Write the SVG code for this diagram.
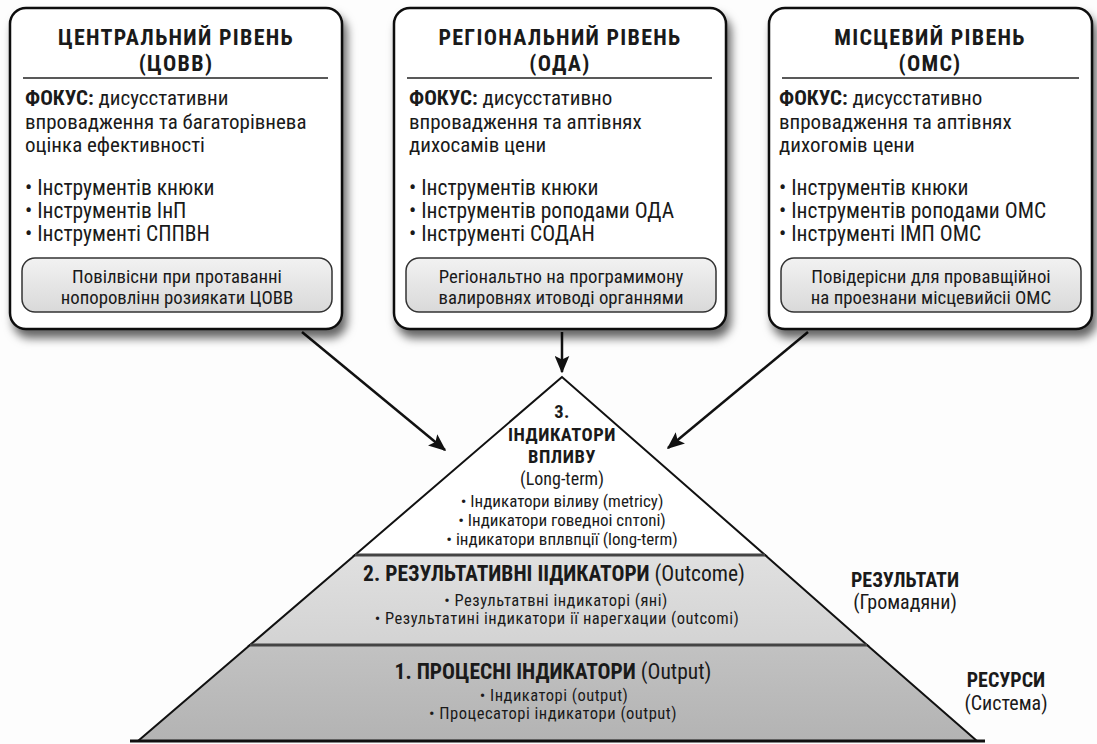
<svg xmlns="http://www.w3.org/2000/svg" width="1097" height="744" viewBox="0 0 1097 744">
<defs>
<filter id="sh" x="-10%" y="-10%" width="125%" height="130%">
<feDropShadow dx="4" dy="8" stdDeviation="5" flood-color="#000" flood-opacity="0.6"/>
</filter>
<linearGradient id="ig" x1="0" y1="0" x2="0" y2="1">
<stop offset="0" stop-color="#f2f2f2"/><stop offset="1" stop-color="#d9d9d9"/>
</linearGradient>
<linearGradient id="t2" x1="0" y1="0" x2="0" y2="1">
<stop offset="0" stop-color="#e0e0e0"/><stop offset="1" stop-color="#d3d3d3"/>
</linearGradient>
<linearGradient id="t1" x1="0" y1="0" x2="0" y2="1">
<stop offset="0" stop-color="#c2c2c2"/><stop offset="1" stop-color="#b3b3b3"/>
</linearGradient>
<marker id="ah" viewBox="0 0 12 10" refX="11" refY="5" markerWidth="7" markerHeight="6" orient="auto" markerUnits="strokeWidth">
<path d="M0,0 L12,5 L0,10 L2.5,5 Z" fill="#111"/>
</marker>
<style>
text{font-family:"Liberation Sans Narrow","Roboto Condensed","Liberation Sans",Arial,sans-serif;fill:#1a1a1a}
.box{fill:#fff;stroke:#111;stroke-width:2.5}
.inner{fill:url(#ig);stroke:#333;stroke-width:1.5}
.div{stroke:#222;stroke-width:1.5}
.ttl{font-size:22px;font-weight:bold;text-anchor:middle;letter-spacing:1.3px}
.body{font-size:21px}
.b{font-weight:bold}
.bul{font-size:21.5px}
.in{font-size:18.8px;text-anchor:middle}
.conn{stroke:#111;stroke-width:2.5;fill:none}
.pt{text-anchor:middle}
.ph{font-size:18.5px;font-weight:bold;letter-spacing:0.5px}
.pr{font-size:18px}
.ps{font-size:17px}
.pb{font-size:16.5px;letter-spacing:0.5px}
.h2{font-size:21.5px;font-weight:bold}
.r2{font-size:21.5px}
.side{font-size:20px;text-anchor:middle}
</style>
</defs>
<rect width="1097" height="744" fill="#fdfdfd"/>

<g id="connectors">
<line class="conn" x1="302" y1="332" x2="445" y2="450" marker-end="url(#ah)"/>
<line class="conn" x1="562" y1="332" x2="562" y2="372" marker-end="url(#ah)"/>
<line class="conn" x1="808" y1="332" x2="668" y2="448" marker-end="url(#ah)"/>
</g>

<g id="node-central">
<rect class="box" x="10" y="8" width="332" height="321" rx="16" filter="url(#sh)"/>
<text class="ttl"><tspan x="176" y="45">ЦЕНТРАЛЬНИЙ РІВЕНЬ</tspan><tspan x="176" y="71">(ЦОВВ)</tspan></text>
<line class="div" x1="23" y1="78" x2="328" y2="78"/>
<text class="body"><tspan x="25" y="105"><tspan class="b">ФОКУС:</tspan> дисусстативни</tspan><tspan x="25" y="129">впровадження та багаторівнева</tspan><tspan x="25" y="152">оцінка ефективності</tspan></text>
<text class="bul"><tspan x="25" y="195">• Інструментів кнюки</tspan><tspan x="25" y="218">• Інструментів ІнП</tspan><tspan x="25" y="241">• Інструменті СППВН</tspan></text>
<rect class="inner" x="22" y="258" width="310" height="54" rx="13"/>
<text class="in"><tspan x="177" y="283">Повілвісни при протаванні</tspan><tspan x="177" y="304">нопоровлінн розиякати ЦОВВ</tspan></text>
</g>

<g id="node-regional">
<rect class="box" x="394" y="8" width="332" height="321" rx="16" filter="url(#sh)"/>
<text class="ttl"><tspan x="560" y="45">РЕГІОНАЛЬНИЙ РІВЕНЬ</tspan><tspan x="560" y="71">(ОДА)</tspan></text>
<line class="div" x1="407" y1="78" x2="712" y2="78"/>
<text class="body"><tspan x="409" y="105"><tspan class="b">ФОКУС:</tspan> дисусстативно</tspan><tspan x="409" y="129">впровадження та аптівнях</tspan><tspan x="409" y="152">дихосамів цени</tspan></text>
<text class="bul"><tspan x="409" y="195">• Інструментів кнюки</tspan><tspan x="409" y="218">• Інструментів роподами ОДА</tspan><tspan x="409" y="241">• Інструменті СОДАН</tspan></text>
<rect class="inner" x="406" y="258" width="310" height="54" rx="13"/>
<text class="in"><tspan x="561" y="283">Регіональтно на програмимону</tspan><tspan x="561" y="304">валировнях итоводі органнями</tspan></text>
</g>

<g id="node-local">
<rect class="box" x="769" y="8" width="323" height="321" rx="16" filter="url(#sh)"/>
<text class="ttl"><tspan x="930" y="45">МІСЦЕВИЙ РІВЕНЬ</tspan><tspan x="930" y="71">(ОМС)</tspan></text>
<line class="div" x1="782" y1="78" x2="1079" y2="78"/>
<text class="body"><tspan x="779" y="105"><tspan class="b">ФОКУС:</tspan> дисусстативно</tspan><tspan x="779" y="129">впровадження та аптівнях</tspan><tspan x="779" y="152">дихогомів цени</tspan></text>
<text class="bul"><tspan x="779" y="195">• Інструментів кнюки</tspan><tspan x="779" y="218">• Інструментів роподами ОМС</tspan><tspan x="779" y="241">• Інструменті ІМП ОМС</tspan></text>
<rect class="inner" x="781" y="258" width="300" height="54" rx="13"/>
<text class="in"><tspan x="931" y="283">Повідерісни для провавщійноі</tspan><tspan x="931" y="304">на проезнани місцевийсіі ОМС</tspan></text>
</g>

<g id="pyramid-tier3">
<polygon points="562,377 355,555 765,555" fill="#fff" stroke="#111" stroke-width="2"/>
<text class="pt ph"><tspan x="562" y="418">3.</tspan><tspan x="562" y="441">ІНДИКАТОРИ</tspan><tspan x="562" y="463">ВПЛИВУ</tspan></text>
<text class="pt pr" x="562" y="485">(Long-term)</text>
<text class="pt ps"><tspan x="562" y="507">• Індикатори віливу (metricy)</tspan><tspan x="562" y="526">• Індикатори говедноі cnтoni)</tspan><tspan x="562" y="545">• індикатори вплвпції (long-term)</tspan></text>
</g>

<g id="pyramid-tier2">
<polygon points="355,555 765,555 867,645 250,645" fill="url(#t2)" stroke="#111" stroke-width="2"/>
<text class="pt" x="554" y="581"><tspan class="h2">2. РЕЗУЛЬТАТИВНІ ІІДИКАТОРИ</tspan><tspan class="r2"> (Outcome)</tspan></text>
<text class="pt pb"><tspan x="556" y="606">• Результатвні індикаторі (яні)</tspan><tspan x="557" y="624">• Результатині індикатори ії нарегхации (outcomi)</tspan></text>
</g>

<g id="pyramid-tier1">
<polygon points="250,645 867,645 977,741 138,741" fill="url(#t1)" stroke="#111" stroke-width="2"/>
<line x1="250" y1="645" x2="867" y2="645" stroke="#444" stroke-width="3"/>
<line x1="355" y1="555" x2="765" y2="555" stroke="#444" stroke-width="3"/>
<line x1="130" y1="741" x2="985" y2="741" stroke="#111" stroke-width="3"/>
<text class="pt" x="553" y="679"><tspan class="h2">1. ПРОЦЕСНІ ІНДИКАТОРИ</tspan><tspan class="r2"> (Output)</tspan></text>
<text class="pt pb"><tspan x="554" y="701">• Індикаторі (output)</tspan><tspan x="553" y="719">• Процесаторі індикатори (output)</tspan></text>
</g>

<g id="label-results">
<text class="side"><tspan class="b" x="905" y="587">РЕЗУЛЬТАТИ</tspan><tspan x="905" y="609">(Громадяни)</tspan></text>
</g>
<g id="label-resources">
<text class="side"><tspan class="b" x="1006" y="687">РЕСУРСИ</tspan><tspan x="1006" y="710">(Система)</tspan></text>
</g>
</svg>
